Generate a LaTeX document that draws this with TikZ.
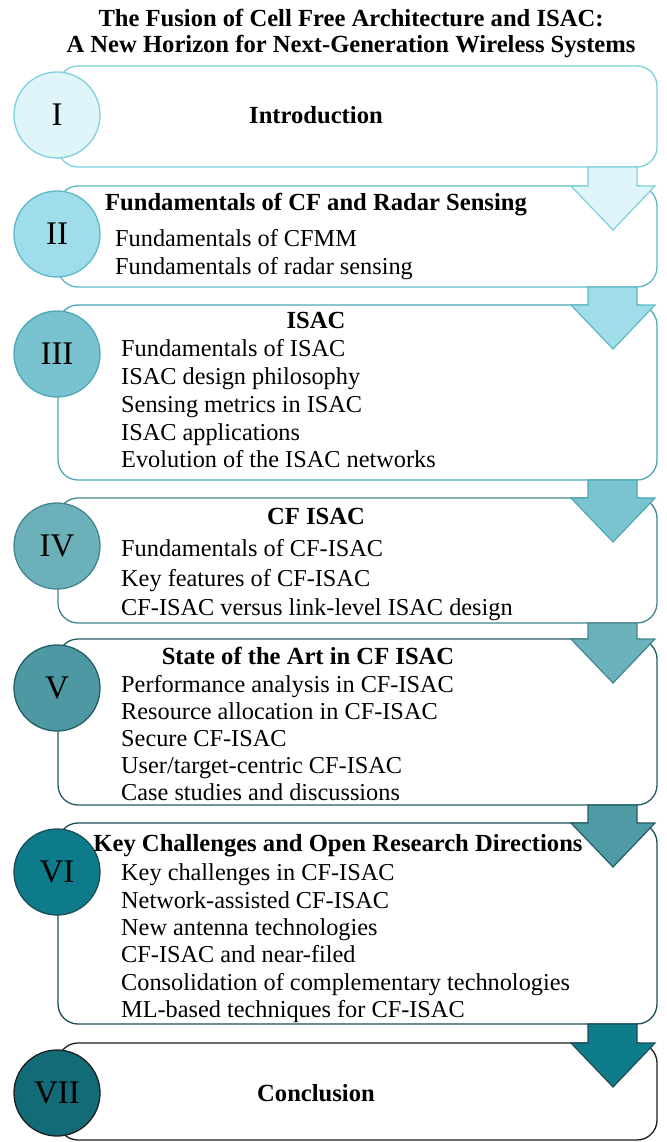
\documentclass[tikz,border=0pt]{standalone}
\usepackage{fontspec}
\setmainfont{Liberation Serif}
\usepackage{tikz}
\usetikzlibrary{calc}
\definecolor{fcI}{HTML}{E0F5FA}
\definecolor{fcII}{HTML}{9EDDE9}
\definecolor{fcIII}{HTML}{78C3CF}
\definecolor{fcIV}{HTML}{6CB0B9}
\definecolor{fcV}{HTML}{4D98A3}
\definecolor{fcVI}{HTML}{0E7B8B}
\definecolor{fcVII}{HTML}{136B77}
\definecolor{lnI}{HTML}{7DD0DF}
\definecolor{lnII}{HTML}{5BB9C8}
\definecolor{lnIII}{HTML}{4BA8B6}
\definecolor{lnIV}{HTML}{43868F}
\definecolor{lnV}{HTML}{245E66}
\definecolor{lnVI}{HTML}{1B4D55}
\definecolor{lnVII}{HTML}{1E1E1E}
\definecolor{arII}{HTML}{A0DDE8}
\definecolor{arIII}{HTML}{7AC4D0}
\definecolor{arIV}{HTML}{6CB2BC}
\definecolor{arV}{HTML}{4E9AA5}
\definecolor{arVI}{HTML}{0F7C8C}
\tikzset{secbox/.style={draw, fill=white, rounded corners=20pt, line width=1.3pt,
        minimum width=599pt, anchor=north west, inner sep=0pt, outer sep=0pt},
    secnum/.style={circle, draw, line width=1.3pt, minimum size=86pt, inner sep=0pt,
        font=\fontsize{33}{33}\selectfont},
    sechead/.style={anchor=base, inner sep=0pt, font=\fontsize{24.6}{28}\selectfont\bfseries},
    secitems/.style={align=left, anchor=north west, inner sep=0pt,
        font=\fontsize{24.3}{27.5}\selectfont},
    stagearr/.style={line width=1.2pt, line join=miter}}
\newcommand{\stagearrow}[4]{%
    \path[stagearr, fill=#3, draw=#4] let \p1=(#1.south east), \p2=(#2.north east) in
    (\x1-69pt,\y1) -- (\x1-20pt,\y1) -- (\x1-20pt,\y2) -- (\x1-2pt,\y2)
    -- (\x1-44pt,\y2-44pt) -- (\x1-86pt,\y2) -- (\x1-69pt,\y2) -- cycle;}

\begin{document}
\begin{tikzpicture}[x=1pt,y=-1pt]
\useasboundingbox (0,0) rectangle (666,1142);
\node[align=center, inner sep=0pt, font=\fontsize{24.6}{26}\selectfont\bfseries] (title) at (351,33)
    {The Fusion of Cell Free Architecture and ISAC:\\A New Horizon for Next-Generation Wireless Systems};

\node[secbox, draw=lnI, minimum height=101pt] (secI) at (58,66) {};
\node[secbox, draw=lnII, minimum height=101pt] (secII) at (58,186) {};
\node[secbox, draw=lnIII, minimum height=175pt] (secIII) at (58,305) {};
\node[secbox, draw=lnIV, minimum height=125pt] (secIV) at (58,498) {};
\node[secbox, draw=lnV, minimum height=166pt] (secV) at (58,639) {};
\node[secbox, draw=lnVI, minimum height=201pt] (secVI) at (58,823) {};
\node[secbox, draw=lnVII, minimum height=97pt] (secVII) at (58,1043) {};

\stagearrow{secI}{secII}{fcI}{lnI}
\stagearrow{secII}{secIII}{arII}{lnII}
\stagearrow{secIII}{secIV}{arIII}{lnIII}
\stagearrow{secIV}{secV}{arIV}{lnIV}
\stagearrow{secV}{secVI}{arV}{lnV}
\stagearrow{secVI}{secVII}{arVI}{lnVI}

\node[secnum, fill=fcI, draw=lnI] (numI) at (57,115) {I};
\node[secnum, fill=fcII, draw=lnII] (numII) at (57,234) {II};
\node[secnum, fill=fcIII, draw=lnIII] (numIII) at (57,354) {III};
\node[secnum, fill=fcIV, draw=lnIV] (numIV) at (57,546) {IV};
\node[secnum, fill=fcV, draw=lnV] (numV) at (57,688) {V};
\node[secnum, fill=fcVI, draw=lnVI] (numVI) at (57,872) {VI};
\node[secnum, fill=fcVII, draw=lnVII] (numVII) at (57,1093) {VII};

\node[sechead] (hdI) at (316,124) {Introduction};
\node[sechead] (hdII) at (316,210) {Fundamentals of CF and Radar Sensing};
\node[sechead] (hdIII) at (316,328) {ISAC};
\node[sechead] (hdIV) at (316,524) {CF ISAC};
\node[sechead] (hdV) at (308,664) {State of the Art in CF ISAC};
\node[sechead] (hdVI) at (338,851) {Key Challenges and Open Research Directions};
\node[sechead] (hdVII) at (316,1101) {Conclusion};

\node[secitems, font=\fontsize{24.3}{28}\selectfont] (itmII) at (115,229.6)
    {Fundamentals of CFMM\\Fundamentals of radar sensing};
\node[secitems, font=\fontsize{24.3}{27.7}\selectfont] (itmIII) at (121,339.6)
    {Fundamentals of ISAC\\ISAC design philosophy\\Sensing metrics in ISAC\\ISAC applications\\Evolution of the ISAC networks};
\node[secitems, font=\fontsize{24.3}{29.5}\selectfont] (itmIV) at (121,539.6)
    {Fundamentals of CF-ISAC\\Key features of CF-ISAC\\CF-ISAC versus link-level ISAC design};
\node[secitems, font=\fontsize{24.3}{27}\selectfont] (itmV) at (121,675.6)
    {Performance analysis in CF-ISAC\\Resource allocation in CF-ISAC\\Secure CF-ISAC\\User/target-centric CF-ISAC\\Case studies and discussions};
\node[secitems, font=\fontsize{24.3}{27.4}\selectfont] (itmVI) at (121,863.6)
    {Key challenges in CF-ISAC\\Network-assisted CF-ISAC\\New antenna technologies\\CF-ISAC and near-filed\\Consolidation of complementary technologies\\ML-based techniques for CF-ISAC};
\end{tikzpicture}
\end{document}
